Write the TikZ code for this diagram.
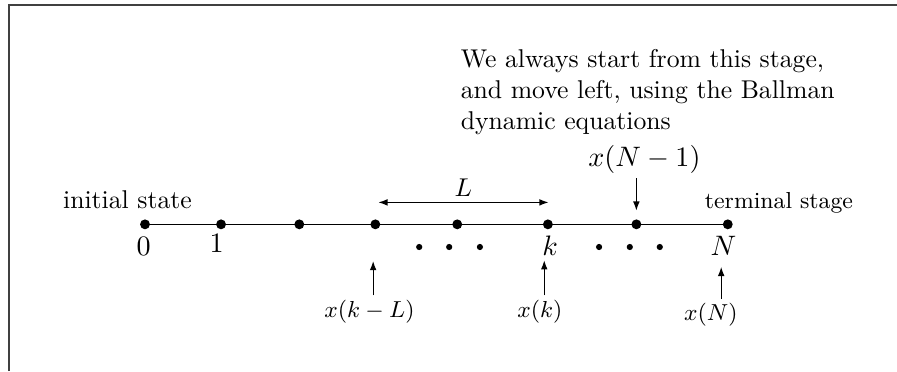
\documentclass[tikz,border=0pt]{standalone}
\usepackage{amsmath}
\usetikzlibrary{positioning, calc, arrows.meta}
\tikzset{
    stage/.style={circle, fill=black, inner sep=0pt, minimum size=1.35mm},
    gapdot/.style={circle, fill=black, inner sep=0pt, minimum size=0.85mm},
    idx/.style={font=\fontsize{11}{13}\selectfont, anchor=base, inner sep=0pt},
    statelab/.style={font=\small, anchor=base, inner sep=0pt},
    pointer/.style={-{Latex[length=3.6pt, width=2.6pt]}, shorten <=1.5pt}
}

\begin{document}
\begin{tikzpicture}[line width=0.5pt]
    \useasboundingbox (-1.983,-2.006) rectangle (10.284,3.068);
    % ---------------- FRAME ---------------- %
    \draw[black!75, line width=0.8pt] (-1.856,-2.006) -- (-1.856,2.995) -- (10.284,2.995);

    % ---------------- STAGES ---------------- %
    \foreach \x [count=\i from 0] in {0,1.04,2.11,3.15,4.27,5.51,6.72,7.97}
        \node[stage] (s\i) at (\x,0) {};
    \draw (s0.center) -- (s7.center);

    % Gaps
    \foreach \x [count=\i] in {3.75,4.16,4.58,6.21,6.63,7.04}
        \node[gapdot] (g\i) at (\x,-0.31) {};

    % Stage numbers
    \node[idx] (n0) at (-0.02,-0.43) {$0$};
    \node[idx] (n1) at (0.98,-0.38) {$1$};
    \node[idx] (nk) at (5.54,-0.43) {$k$};
    \node[idx] (nN) at (7.91,-0.43) {$N$};

    % End labels
    \node[anchor=base] (init) at (-0.24,0.22) {initial state};
    \node[anchor=base, font=\small] (term) at (8.67,0.22) {terminal stage};

    % ---------------- WINDOW ---------------- %
    \coordinate (wl) at (3.19,0.30);
    \coordinate (wr) at (5.52,0.30);
    \draw[{Latex[length=3.6pt, width=2.6pt]}-{Latex[length=3.6pt, width=2.6pt]}] (wl) -- node[above, inner sep=2pt] (lenL) {$L$} (wr);

    % ---------------- STATES ---------------- %
    \node[statelab] (xkL) at (3.07,-1.27) {$x(k-L)$};
    \node[statelab] (xk) at (5.40,-1.27) {$x(k)$};
    \node[statelab] (xN) at (7.74,-1.32) {$x(N)$};
    \node[idx] (xN1) at (6.83,0.79) {$x(N-1)$};

    \coordinate (tkL) at (3.12,-0.50);
    \coordinate (tk) at (5.46,-0.49);
    \coordinate (tN) at (7.88,-0.58);
    \coordinate (tN1) at (6.72,0.186);

    \draw[pointer] (tkL |- xkL.north) -- (tkL);
    \draw[pointer] (tk |- xk.north) -- (tk);
    \draw[pointer] (tN |- xN.north) -- (tN);
    \draw[pointer] (tN1 |- xN1.south) -- (tN1);

    % Note
    \node[anchor=north west, align=left, inner sep=0pt] (note) at (4.31,2.40)
        {We always start from this stage,\\and move left, using the Ballman\\dynamic equations};
\end{tikzpicture}
\end{document}
